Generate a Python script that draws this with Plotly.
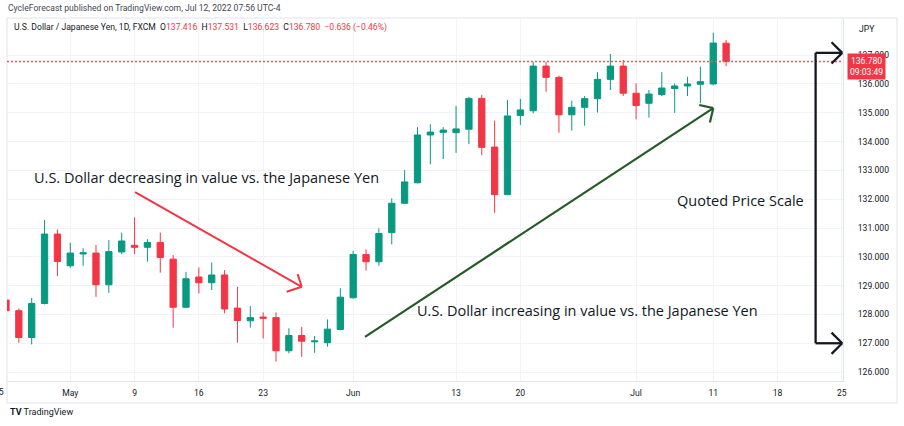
import numpy as np
import plotly.graph_objects as go

# ---------------- data ----------------
dates = ["2022-04-25", "2022-04-26", "2022-04-27", "2022-04-28", "2022-04-29",
         "2022-05-02", "2022-05-03", "2022-05-04", "2022-05-05", "2022-05-06",
         "2022-05-09", "2022-05-10", "2022-05-11", "2022-05-12", "2022-05-13",
         "2022-05-16", "2022-05-17", "2022-05-18", "2022-05-19", "2022-05-20",
         "2022-05-23", "2022-05-24", "2022-05-25", "2022-05-26", "2022-05-27",
         "2022-05-30", "2022-05-31", "2022-06-01", "2022-06-02", "2022-06-03",
         "2022-06-06", "2022-06-07", "2022-06-08", "2022-06-09", "2022-06-10",
         "2022-06-13", "2022-06-14", "2022-06-15", "2022-06-16", "2022-06-17",
         "2022-06-20", "2022-06-21", "2022-06-22", "2022-06-23", "2022-06-24",
         "2022-06-27", "2022-06-28", "2022-06-29", "2022-06-30", "2022-07-01",
         "2022-07-04", "2022-07-05", "2022-07-06", "2022-07-07", "2022-07-08",
         "2022-07-11", "2022-07-12"]
opens = [128.50, 128.13, 127.20, 128.38, 130.79,
         129.69, 130.10, 130.13, 129.03, 130.17,
         130.40, 130.33, 130.50, 129.92, 128.25,
         129.30, 129.10, 129.37, 128.22, 127.78,
         127.91, 127.89, 126.74, 127.27, 127.05,
         127.02, 127.48, 128.58, 130.08, 129.83,
         130.84, 131.86, 132.57, 134.23, 134.32,
         134.31, 134.43, 135.50, 133.81, 132.16,
         134.91, 135.07, 136.62, 136.23, 134.93,
         135.19, 135.49, 136.16, 136.62, 135.68,
         135.33, 135.63, 135.84, 135.93, 135.99,
         136.00, 137.416]
highs = [128.62, 128.21, 128.58, 131.28, 130.95,
         130.49, 130.30, 130.41, 130.58, 130.84,
         131.37, 130.61, 130.84, 130.06, 129.48,
         129.63, 129.80, 129.54, 128.96, 128.29,
         128.07, 128.07, 127.52, 127.57, 127.25,
         127.83, 128.91, 130.20, 130.26, 130.99,
         132.03, 133.01, 134.50, 134.60, 134.50,
         135.24, 135.55, 135.62, 134.73, 135.44,
         135.48, 136.76, 136.76, 136.29, 135.42,
         135.58, 136.41, 137.04, 136.83, 136.02,
         135.79, 136.41, 136.02, 136.25, 136.60,
         137.78, 137.531]
lows = [127.95, 127.02, 126.96, 128.35, 129.33,
        129.62, 129.69, 128.61, 128.75, 130.10,
        130.10, 129.83, 129.45, 127.54, 128.22,
        128.73, 128.85, 128.04, 127.02, 127.54,
        127.17, 126.36, 126.65, 126.53, 126.67,
        126.88, 127.45, 128.55, 129.52, 129.69,
        130.43, 131.84, 132.55, 133.21, 133.39,
        133.61, 133.91, 133.53, 131.53, 132.14,
        134.58, 134.98, 135.73, 134.31, 134.38,
        134.55, 135.01, 135.79, 135.58, 134.77,
        134.83, 135.58, 135.00, 135.58, 135.33,
        135.95, 136.623]
closes = [128.13, 127.20, 128.38, 130.79, 129.84,
          130.13, 130.14, 129.03, 130.18, 130.55,
          130.33, 130.50, 129.98, 128.25, 129.24,
          129.10, 129.37, 128.19, 127.79, 127.89,
          127.87, 126.74, 127.27, 127.07, 127.08,
          127.49, 128.60, 130.08, 129.83, 130.81,
          131.86, 132.60, 134.23, 134.33, 134.40,
          134.44, 135.50, 133.80, 132.16, 134.89,
          135.10, 136.62, 136.23, 134.93, 135.19,
          135.49, 136.16, 136.62, 135.68, 135.25,
          135.65, 135.86, 135.93, 136.00, 136.08,
          137.42, 136.780]

tick_dates = ["2022-05-02", "2022-05-09", "2022-05-16", "2022-05-23", "2022-06-01",
              "2022-06-13", "2022-06-20", "2022-07-01", "2022-07-11", "2022-07-18",
              "2022-07-25"]
tick_labels = ["May", "9", "16", "23", "Jun", "13", "20", "Jul", "11", "18", "25"]
price_ticks = [126, 127, 128, 129, 130, 131, 132, 133, 134, 135, 136, 137]
price_tick_labels = ["126.000", "127.000", "128.000", "129.000", "130.000", "131.000",
                     "132.000", "133.000", "134.000", "135.000", "136.000", "137.000"]
last_price = 136.780
countdown = "09:03:49"

# ---------------- figure ----------------
base = "2022-05-02"
xs = np.busday_count(base, dates)
tx = np.busday_count(base, tick_dates)

GREEN = "#089981"
RED = "#F23645"
TXT = "#131722"
GRID = "#f0f3fa"
BORDER = "#e0e3eb"
XR = [-4.92, 60.09]

fig = go.Figure()
# last price dotted line
fig.add_trace(go.Scatter(x=XR, y=[last_price, last_price], mode="lines",
                         line=dict(color="#f7525f", width=1.3, dash="2px,2px"),
                         showlegend=False, hoverinfo="skip"))
fig.add_trace(go.Candlestick(
    x=xs, open=opens, high=highs, low=lows, close=closes,
    increasing=dict(line=dict(color=GREEN, width=1), fillcolor=GREEN),
    decreasing=dict(line=dict(color=RED, width=1), fillcolor=RED),
    whiskerwidth=0, showlegend=False, hoverinfo="skip"))

axfont = dict(family="Roboto", size=8.6, color=TXT)

fig.update_layout(
    width=904, height=426,
    margin=dict(l=7, r=61, t=18, b=45),
    paper_bgcolor="white", plot_bgcolor="white",
    showlegend=False, hovermode=False,
    xaxis=dict(range=XR, tickvals=tx, ticktext=tick_labels,
               showgrid=True, gridcolor=GRID, zeroline=False, ticks="",
               rangeslider=dict(visible=False), tickfont=axfont,
               showline=True, linecolor=BORDER, ticklabelstandoff=4),
    yaxis=dict(side="right", range=[125.69, 138.29], tickvals=price_ticks,
               ticktext=price_tick_labels, showgrid=True, gridcolor=GRID,
               zeroline=False, ticks="", tickfont=axfont,
               showline=True, linecolor=BORDER, ticklabelstandoff=12),
)

shapes = []
# outer pane border
shapes.append(dict(type="rect", xref="paper", yref="paper", x0=0, x1=1.0646,
                   y0=-0.0606, y1=1.0, line=dict(color=BORDER, width=1),
                   layer="below"))


def seg(x0, y0, x1, y1, color, width):
    shapes.append(dict(type="line", xref="x", yref="y", x0=x0, y0=y0, x1=x1, y1=y1,
                       line=dict(color=color, width=width)))


# red down arrow (drawing)
seg(5.04, 132.25, 18.0, 128.96, RED, 2)
seg(17.68, 129.40, 18.0, 128.96, RED, 2)
seg(16.83, 128.79, 18.0, 128.96, RED, 2)

# green up arrow (drawing)
DG = "#245a26"
seg(22.92, 127.22, 50.0, 135.16, DG, 2.2)
seg(48.91, 135.27, 50.0, 135.16, DG, 2.2)
seg(49.74, 134.66, 50.0, 135.16, DG, 2.2)

# black bracket
BK = "#131722"
seg(57.96, 137.08, 60.03, 137.08, BK, 2.3)
seg(57.96, 137.08, 57.96, 127.0, BK, 2.3)
seg(57.96, 127.0, 60.03, 127.0, BK, 2.3)
seg(59.2, 137.45, 60.03, 137.08, BK, 2.3)
seg(59.2, 136.71, 60.03, 137.08, BK, 2.3)
seg(59.2, 127.37, 60.03, 127.0, BK, 2.3)
seg(59.2, 126.63, 60.03, 127.0, BK, 2.3)

fig.update_layout(shapes=shapes)

tfont = dict(family="Open Sans", size=14.5, color=TXT)
anns = [
    dict(text="U.S. Dollar decreasing in value vs. the Japanese Yen", x=10.59, y=132.77,
         xref="x", yref="y", showarrow=False, font=tfont),
    dict(text="U.S. Dollar increasing in value vs. the Japanese Yen", x=40.2, y=128.15,
         xref="x", yref="y", showarrow=False, font=tfont),
    dict(text="Quoted Price Scale", x=52.12, y=131.97,
         xref="x", yref="y", showarrow=False, font=tfont),
    dict(text="CycleForecast published on TradingView.com, Jul 12, 2022 07:56 UTC-4",
         x=-0.0012, y=1.0275, xref="paper", yref="paper", xanchor="left", yanchor="middle",
         showarrow=False, font=dict(family="Roboto", size=8.6, color="#434651")),
    dict(text=("U.S. Dollar / Japanese Yen, 1D, FXCM  O<span style='color:%s'>137.416</span>"
               "  H<span style='color:%s'>137.531</span>  L<span style='color:%s'>136.623</span>"
               "  C<span style='color:%s'>136.780</span>  <span style='color:%s'>−0.636 (−0.46%%)</span>")
         % (RED, RED, RED, RED, RED),
         x=0.006, y=0.9725, xref="paper", yref="paper", xanchor="left", yanchor="middle",
         showarrow=False, font=dict(family="Roboto", size=8.6, color=TXT)),
    dict(text="JPY", x=1.0167, y=0.9697, xref="paper", yref="paper", xanchor="left",
         yanchor="middle", showarrow=False, font=dict(family="Roboto", size=8.6, color=TXT)),
    dict(text="%.3f<br>%s" % (last_price, countdown), x=1.005, y=last_price - 0.17,
         xref="paper", yref="y", xanchor="left", yanchor="middle", showarrow=False,
         bgcolor=RED, borderpad=2, font=dict(family="Roboto", size=8.6, color="white")),
    dict(text="25", x=-0.0096, y=-0.03, xref="paper", yref="paper", xanchor="center",
         yanchor="middle", showarrow=False, font=axfont),
    dict(text="<b>TV</b> TradingView", x=0.0012, y=-0.0854, xref="paper", yref="paper",
         xanchor="left", yanchor="middle", showarrow=False,
         font=dict(family="Roboto", size=9, color=TXT)),
]
fig.update_layout(annotations=anns)

fig.write_html("out.html", config={"displayModeBar": False},
               post_script="document.body.style.margin='0';document.body.style.padding='0';")
